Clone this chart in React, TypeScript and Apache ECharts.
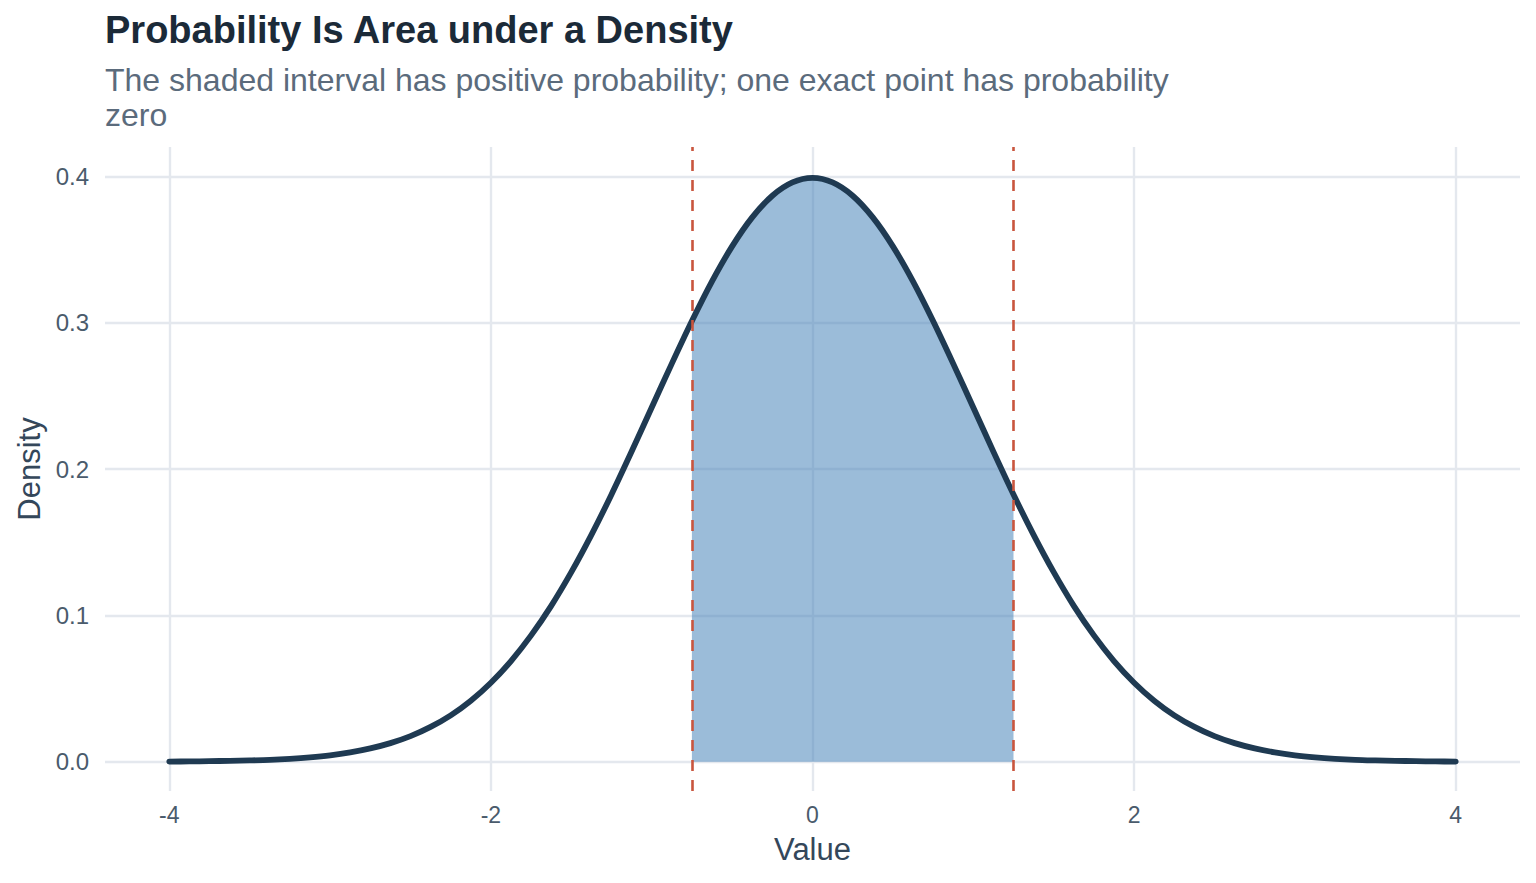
import React, { useEffect, useRef } from "react";
import * as echarts from "echarts";

// Density curve (x from -4 to 4, step 0.125)
const xValues = [
  -4, -3.875, -3.75, -3.625, -3.5, -3.375, -3.25, -3.125, -3, -2.875, -2.75, -2.625, -2.5, -2.375,
  -2.25, -2.125, -2, -1.875, -1.75, -1.625, -1.5, -1.375, -1.25, -1.125, -1, -0.875, -0.75, -0.625,
  -0.5, -0.375, -0.25, -0.125, 0, 0.125, 0.25, 0.375, 0.5, 0.625, 0.75, 0.875, 1, 1.125, 1.25,
  1.375, 1.5, 1.625, 1.75, 1.875, 2, 2.125, 2.25, 2.375, 2.5, 2.625, 2.75, 2.875, 3, 3.125, 3.25,
  3.375, 3.5, 3.625, 3.75, 3.875, 4,
];
const densityValues = [
  0.0001, 0.0002, 0.0004, 0.0006, 0.0009, 0.0013, 0.002, 0.003, 0.0044, 0.0064, 0.0091, 0.0127,
  0.0175, 0.0238, 0.0317, 0.0417, 0.054, 0.0688, 0.0863, 0.1065, 0.1295, 0.155, 0.1826, 0.2119,
  0.242, 0.272, 0.3011, 0.3282, 0.3521, 0.3719, 0.3867, 0.3958, 0.3989, 0.3958, 0.3867, 0.3719,
  0.3521, 0.3282, 0.3011, 0.272, 0.242, 0.2119, 0.1826, 0.155, 0.1295, 0.1065, 0.0863, 0.0688,
  0.054, 0.0417, 0.0317, 0.0238, 0.0175, 0.0127, 0.0091, 0.0064, 0.0044, 0.003, 0.002, 0.0013,
  0.0009, 0.0006, 0.0004, 0.0002, 0.0001,
];
const intervalLow = -0.75;
const intervalHigh = 1.25;
const xTickValues = [-4, -2, 0, 2, 4];
const yTickValues = [0, 0.1, 0.2, 0.3, 0.4];
const titleText = "Probability Is Area under a Density";
const subtitleText =
  "The shaded interval has positive probability; one exact point has probability\nzero";
const xAxisTitle = "Value";
const yAxisTitle = "Density";

export default function App() {
  const ref = useRef<HTMLDivElement>(null);

  useEffect(() => {
    document.body.style.margin = "0";
    const el = ref.current!;
    const chart = echarts.init(el, null, { renderer: "svg" });
    const curve = xValues.map((x, i) => [x, densityValues[i]]);
    const shade = curve.filter(
      ([x]) => x >= intervalLow - 1e-9 && x <= intervalHigh + 1e-9
    );
    const font = "'Liberation Sans', Arial, Helvetica, sans-serif";
    const gridColor = "#e4e8ee";

    chart.setOption({
      animation: false,
      backgroundColor: "#ffffff",
      textStyle: { fontFamily: font },
      title: {
        left: 105,
        top: 11,
        padding: 0,
        itemGap: 13,
        text: titleText,
        subtext: subtitleText,
        textStyle: { fontFamily: font, fontSize: 38, fontWeight: "bold", color: "#1b2a38", lineHeight: 38 },
        subtextStyle: { fontFamily: font, fontSize: 32, color: "#5b6b7c", lineHeight: 35 },
      },
      grid: { left: 105, right: 16, top: 147, bottom: 92 },
      xAxis: {
        type: "value",
        min: -4.4,
        max: 4.4,
        name: xAxisTitle,
        nameLocation: "middle",
        nameGap: 43,
        nameTextStyle: { fontFamily: font, fontSize: 31, color: "#34475a" },
        axisLine: { show: false },
        axisTick: { show: false, customValues: xTickValues },
        axisLabel: {
          customValues: xTickValues,
          fontSize: 23,
          color: "#4a5b6c",
          margin: 12,
          formatter: (v: number) => String(v),
        },
        splitLine: { show: true, lineStyle: { color: gridColor, width: 2.4 } },
      },
      yAxis: {
        type: "value",
        min: -0.02,
        max: 0.42,
        name: yAxisTitle,
        nameLocation: "middle",
        nameGap: 59,
        nameTextStyle: { fontFamily: font, fontSize: 31, color: "#34475a" },
        axisLine: { show: false },
        axisTick: { show: false, customValues: yTickValues },
        axisLabel: {
          customValues: yTickValues,
          fontSize: 24,
          color: "#4a5b6c",
          margin: 16,
          formatter: (v: number) => v.toFixed(1),
        },
        splitLine: { show: true, lineStyle: { color: gridColor, width: 2.4 } },
      },
      series: [
        {
          type: "line",
          data: shade,
          smooth: 0.3,
          symbol: "none",
          silent: true,
          lineStyle: { width: 0 },
          areaStyle: { color: "rgba(70,132,184,0.54)", opacity: 1 },
          z: 2,
        },
        {
          type: "line",
          data: curve,
          smooth: 0.3,
          symbol: "none",
          silent: true,
          lineStyle: { color: "#1f3a52", width: 5.8, join: "round", cap: "round" },
          z: 3,
        },
        {
          type: "line",
          data: [],
          silent: true,
          z: 4,
          markLine: {
            symbol: "none",
            silent: true,
            label: { show: false },
            lineStyle: { type: [11, 9], color: "#c9553e", width: 2.6 },
            data: [{ xAxis: intervalLow }, { xAxis: intervalHigh }],
          },
        },
      ],
    });

    return () => chart.dispose();
  }, []);

  return <div ref={ref} style={{ width: 1536, height: 883 }} />;
}
